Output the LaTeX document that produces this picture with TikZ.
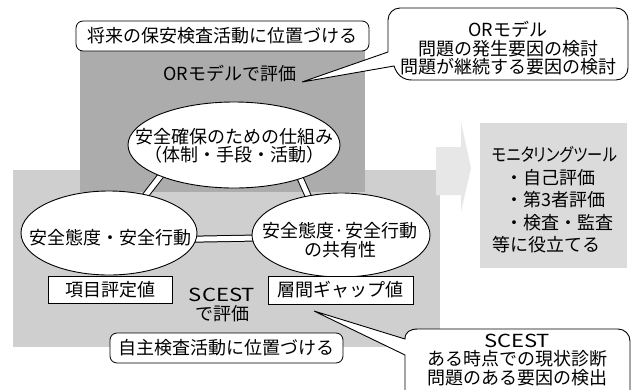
\documentclass[tikz,border=0pt]{standalone}
\usepackage{fontspec}
\setmainfont{Noto Sans CJK JP}
\newfontfamily\jpp{Noto Sans CJK JP}[RawFeature=+palt]
\usetikzlibrary{shapes.geometric}
\definecolor{darkg}{RGB}{172,172,172}
\definecolor{lightg}{RGB}{207,207,207}
\definecolor{boxg}{RGB}{219,219,219}
\definecolor{arrg}{RGB}{231,231,231}
\pgfdeclarelayer{bg}\pgfdeclarelayer{mid}\pgfsetlayers{bg,mid,main}
\newcommand{\fitw}[2]{\resizebox{#1}{\height}{#2}}
\begin{document}
\begin{tikzpicture}[x=1pt,y=-1pt,
  jp/.style={font=\fontsize{18}{18.5}\selectfont, inner sep=0pt},
  ell/.style={ellipse, draw=black, line width=0.9pt, fill=white, inner sep=0pt},
  lbl/.style={draw=black, line width=0.8pt, fill=white, rounded corners=7pt, inner sep=0pt},
  valbox/.style={draw=black, line width=0.8pt, fill=white, inner sep=0pt},
  bar/.style={double=white, double distance=5pt, line width=1pt, shorten <=-5pt, shorten >=-5pt},
  bubble/.style={draw=black, line width=0.9pt, fill=white}]
\useasboundingbox (0,0) rectangle (640,389);
\clip (0,0) rectangle (640,389);
% background regions
\begin{pgfonlayer}{bg}
\fill[white] (0,0) rectangle (640,389);
\fill[lightg] (13,170) rectangle (440,347);
\fill[darkg] (80,45) rectangle (365,192);
\fill[arrg] (436,147) -- (461,147) -- (461,122) -- (471,168) -- (461,212) -- (461,195) -- (436,195) -- cycle;
\end{pgfonlayer}
% top label
\node[lbl, jp, minimum width=293, minimum height=30] (top) at (222.5,36) {将来の保安検査活動に位置づける};
\node[jp] (orm) at (230,74) {ORモデルで評価};
% ellipses
\node[ell, minimum width=212, minimum height=86] (e1) at (234,145) {};
\node[jp, align=center] (e1t) at (234,146) {安全確保のための仕組み\\（体制・手段・活動）};
\node[ell, minimum width=176, minimum height=84] (e2) at (109,233) {};
\node[jp] (e2t) at (110,238) {安全態度・安全行動};
\node[ell, minimum width=178, minimum height=84] (e3) at (341,235) {};
\node[jp, align=center] (e3t) at (340,240) {安全態度·安全行動\\の共有性};
\begin{pgfonlayer}{mid}
\draw[bar] (e1.203) -- (e2.46);
\draw[bar] (e1.333) -- (e3.130);
\draw[bar] (e2.-4) -- (e3.182.6);
\end{pgfonlayer}
% value boxes
\node[valbox, jp, minimum width=124, minimum height=27] (v1) at (110,289.5) {項目評定値};
\node[valbox, jp, minimum width=145, minimum height=28] (v2) at (340.5,290) {層間ギャップ値};
\node[jp, align=center] (sc) at (222,305) {\fitw{66pt}{SCEST}\\で評価};
\node[lbl, jp, minimum width=233, minimum height=30] (self) at (226.5,348) {自主検査活動に位置づける};
% right box
\node[fill=boxg, minimum width=147, minimum height=145, inner sep=0pt] (rb) at (553.5,195.5) {};
\node[jp, anchor=west, align=left, font=\fontsize{18}{22.5}\selectfont] (rbt) at (492,200)
  {\fitw{125pt}{\jpp モニタリングツール}\\\hspace{13pt}・自己評価\\\hspace{13pt}・第3者評価\\\hspace{13pt}・検査・監査\\等に役立てる};
% top-right bubble
\coordinate (p1) at (302,82);
\draw[bubble] (p1) -- (388,52) -- (388,20) arc[start angle=180, end angle=270, radius=12]
  -- (616,8) arc[start angle=270, end angle=360, radius=12]
  -- (628,68) arc[start angle=0, end angle=90, radius=12]
  -- (412,80) .. controls (403,80) and (397,75) .. (394,66) -- cycle;
\node[jp, align=center] (c1) at (508,48.5) {ORモデル\\問題の発生要因の検討\\問題が継続する要因の検討};
% bottom-right bubble
\coordinate (p2) at (314,311);
\draw[bubble] (p2) -- (405,339) .. controls (405,332) and (410,329) .. (418,329)
  -- (618,329) arc[start angle=270, end angle=360, radius=12]
  -- (630,400) -- (405,400) -- (405,355) -- cycle;
\node[jp, align=center] (c2) at (517,360) {\fitw{66pt}{SCEST}\\ある時点での現状診断\\問題のある要因の検出};
\end{tikzpicture}
\end{document}
